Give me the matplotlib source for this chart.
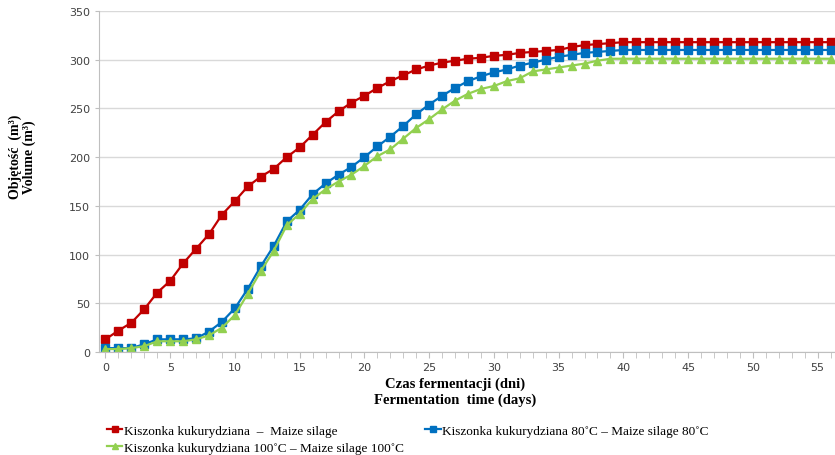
import numpy as np
import matplotlib
matplotlib.use("Agg")
import matplotlib.pyplot as plt

# days of fermentation
days = list(range(57))

# Kiszonka kukurydziana - Maize silage
red = [13, 22, 30, 44, 61, 73, 91, 106, 121, 141, 155, 170, 180, 188, 200, 210, 223, 236, 247, 256,
       263, 271, 278, 284, 290, 294, 297, 299, 301, 302, 304, 305, 307, 308, 309, 310, 313, 315, 316, 317,
       318, 318, 318, 318, 318, 318, 318, 318, 318, 318, 318, 318, 318, 318, 318, 318, 318]
# Kiszonka kukurydziana 80C
blue = [4, 4, 4, 8, 13, 13, 13, 14, 21, 31, 45, 65, 88, 109, 134, 146, 162, 173, 182, 190,
        200, 211, 221, 232, 244, 254, 263, 271, 278, 283, 287, 290, 294, 297, 300, 303, 305, 307, 308, 309,
        310, 310, 310, 310, 310, 310, 310, 310, 310, 310, 310, 310, 310, 310, 310, 310, 310]
# Kiszonka kukurydziana 100C
green = [3, 3, 4, 6, 11, 11, 11, 13, 17, 25, 38, 60, 83, 104, 130, 142, 157, 167, 175, 182,
         191, 201, 208, 219, 230, 239, 249, 258, 265, 270, 273, 278, 281, 288, 290, 292, 294, 296, 299, 301,
         301, 301, 301, 301, 301, 301, 301, 301, 301, 301, 301, 301, 301, 301, 301, 301, 301]

labels = ["Kiszonka kukurydziana  \u2013  Maize silage",
          "Kiszonka kukurydziana 80\u02daC \u2013 Maize silage 80\u02daC",
          "Kiszonka kukurydziana 100\u02daC \u2013 Maize silage 100\u02daC"]

fig = plt.figure(figsize=(8.35, 4.56), dpi=100)
ax = fig.add_axes([99 / 835, 103 / 456, 738 / 835, 341 / 456])

l1, = ax.plot(days, red, color="#C00000", marker="s", markersize=6, linewidth=1.6, label=labels[0])
l2, = ax.plot(days, blue, color="#0070C0", marker="s", markersize=6, linewidth=1.6, label=labels[1])
l3, = ax.plot(days, green, color="#92D050", marker="^", markersize=6, linewidth=1.6, label=labels[2])

ax.set_xlim(-0.5, 56.5)
ax.set_ylim(0, 350)
ax.set_yticks(np.arange(0, 351, 50))
ax.set_xticks(np.arange(0, 56, 5))
ax.set_xticks(np.arange(0, 57, 1), minor=True)
ax.grid(axis="y", color="#D9D9D9", linewidth=1)
ax.set_axisbelow(True)
for s in ["top", "right"]:
    ax.spines[s].set_visible(False)
for s in ["left", "bottom"]:
    ax.spines[s].set_color("#BFBFBF")
ax.tick_params(axis="both", which="both", color="#BFBFBF", labelcolor="#404040", labelsize=8)
ax.tick_params(axis="x", which="both", length=4)
ax.tick_params(axis="y", length=3)
for t in ax.get_xticklabels() + ax.get_yticklabels():
    t.set_family(["Liberation Sans Narrow", "DejaVu Sans"])

# axis titles
fig.text(455 / 835, 1 - 384 / 456, "Czas fermentacji (dni)", ha="center", va="center",
         family="Liberation Serif", fontweight="bold", fontsize=10.5)
fig.text(455 / 835, 1 - 400 / 456, "Fermentation  time (days)", ha="center", va="center",
         family="Liberation Serif", fontweight="bold", fontsize=10.5)
fig.text(15 / 835, 1 - 157 / 456, "Objętość  (m\u00b3)", rotation=90, ha="center", va="center",
         family="Liberation Serif", fontweight="bold", fontsize=10)
fig.text(29 / 835, 1 - 157 / 456, "Volume (m\u00b3)", rotation=90, ha="center", va="center",
         family="Liberation Serif", fontweight="bold", fontsize=10)

fig.legend([l1, l3, l2], [labels[0], labels[2], labels[1]], ncol=2, loc="upper left",
           bbox_to_anchor=(100 / 835, 1 - 419 / 456), frameon=False, borderpad=0,
           prop={"family": "Liberation Serif", "size": 9.5}, handlelength=1.2, handletextpad=0.1,
           columnspacing=1.6, labelspacing=0.35, markerscale=0.8)

fig.savefig("out.png", dpi=100)
